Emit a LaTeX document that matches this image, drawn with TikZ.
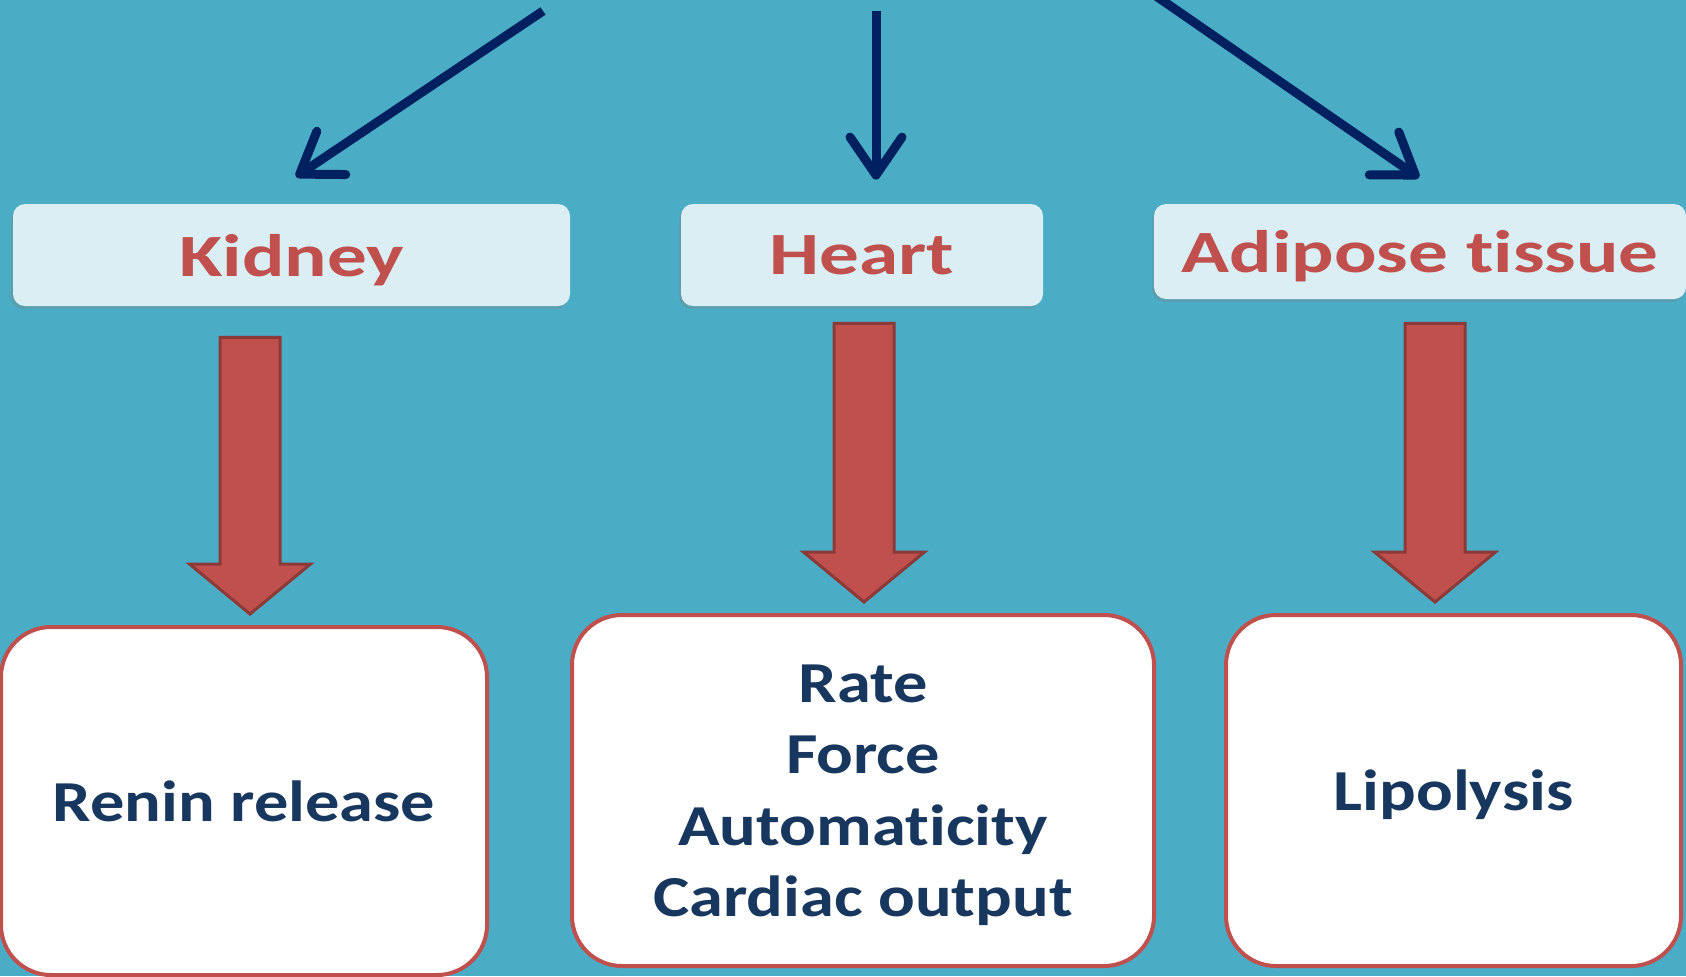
\documentclass[tikz,border=0pt]{standalone}
\usepackage{fontspec}
\setmainfont{Carlito}[Ligatures=NoCommon]
\newfontfamily\organfont{Carlito}[FakeStretch=1.32,Ligatures=NoCommon]
\newfontfamily\effectfont{Carlito}[FakeStretch=1.18,Ligatures=NoCommon]
\usetikzlibrary{arrows.meta,calc,shadows}
\definecolor{bgteal}{HTML}{4BACC6}
\definecolor{paleblue}{HTML}{DAEEF3}
\definecolor{brickred}{HTML}{C0504D}
\definecolor{darkbrick}{HTML}{8C3A38}
\definecolor{navy}{HTML}{002060}
\definecolor{inkblue}{HTML}{17375E}
\newcommand{\redarrow}[5]{%
  \path (#1,0 |- #2.south) ++(0,#4) coordinate (tail);
  \path (#1,0 |- #3.north) ++(0,-#5) coordinate (tip);
  \draw[block] ($(tail)+(-30,0)$) -- ($(tail)+(30,0)$) -- ($(tip)+(30,-50)$)
    -- ($(tip)+(60.5,-50)$) -- (tip) -- ($(tip)+(-60.5,-50)$) -- ($(tip)+(-30,-50)$) -- cycle;}
\begin{document}
\begin{tikzpicture}[
              x=0.5pt, y=-0.5pt,
              organ/.style={fill=paleblue,rounded corners=6pt,inner sep=0pt,text=brickred,text depth=0pt,
                font=\organfont\fontsize{30}{34}\selectfont\bfseries,
                drop shadow={shadow xshift=-1pt,shadow yshift=-1.5pt,opacity=0.3}},
              effect/.style={fill=white,draw=brickred,line width=2pt,rounded corners=25pt,inner sep=0pt,
                text=inkblue,text depth=0pt,align=center,font=\effectfont\fontsize{29}{35.7}\selectfont\bfseries},
              nerve/.style={draw=navy,line width=4.5pt,
                -{Straight Barb[length=19pt,width=26pt,line cap=round,line join=round]}},
              block/.style={fill=brickred,draw=darkbrick,line width=1.5pt}
            ]
            \useasboundingbox (0,0) rectangle (1686,976);
            \fill[bgteal] (0,0) rectangle (1686,976);

            % Organs
            \node[organ,minimum width=278.5pt,minimum height=51pt] (kidney) at (291.5,255) {Kidney};
            \node[organ,minimum width=181pt,minimum height=51pt] (heart) at (862,255) {Heart};
            \node[organ,minimum width=266pt,minimum height=47.5pt] (adipose) at (1420,251.5) {Adipose tissue};

            % Effects
            \node[effect,minimum width=243pt,minimum height=174pt] (renin) at (244,801) {Renin release};
            \node[effect,minimum width=291pt,minimum height=175.5pt] (cardiac) at (863,790.5)
              {Rate\\Force\\Automaticity\\Cardiac output};
            \node[effect,minimum width=227.5pt,minimum height=175.5pt] (lipolysis) at (1453.5,790.5) {Lipolysis};

            % Incoming arrows
            \coordinate (root1) at (543,11);
            \coordinate (root2) at (876,11);
            \coordinate (root3) at (1156,-4);
            \draw[nerve] (root1) -- ($(kidney.north)+(4.5,-27)$);
            \draw[nerve] (root2) -- ($(heart.north)+(14,-24)$);
            \draw[nerve] (root3) -- ($(adipose.north)+(-1,-26)$);

            % Block arrows
            \redarrow{250}{kidney}{renin}{31}{11}
            \redarrow{864}{heart}{cardiac}{17}{11}
            \redarrow{1435}{adipose}{lipolysis}{24}{11}

            \end{tikzpicture}
\end{document}
